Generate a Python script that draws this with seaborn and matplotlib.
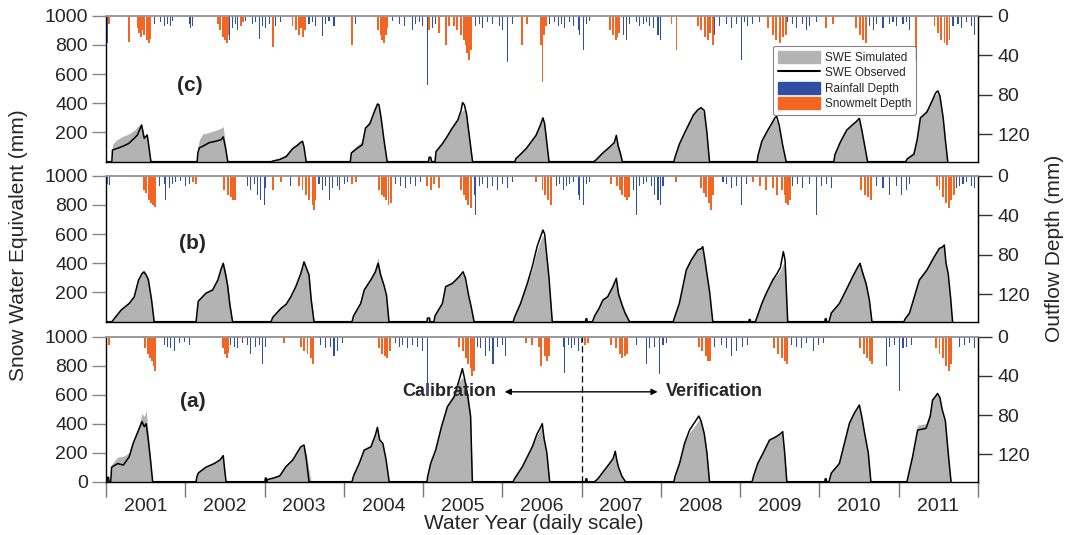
import numpy as np
import pandas as pd
import matplotlib
matplotlib.use("Agg")
import matplotlib.pyplot as plt
import matplotlib.patches as mpatches
import matplotlib.lines as mlines
import seaborn as sns

# ---------------- data ----------------
years = [2001, 2002, 2003, 2004, 2005, 2006, 2007, 2008, 2009, 2010, 2011]
panel_labels = ["(c)", "(b)", "(a)"]

# SWE (mm) per water year: day of water year, observed, simulated
c_days = [[0,27,30,50,80,105,130,145,164,176,190,198,207],
          [0,55,58,65,80,110,140,165,175,185,196],
          [0,30,40,70,100,130,150,165,175,182,192],
          [0,30,35,60,85,100,120,140,155,162,172,185,200],
          [0,25,28,35,40,55,60,90,110,130,160,175,182,190,200,215,228],
          [0,58,62,90,110,130,155,175,187,195,205,215],
          [0,55,65,98,129,150,160,168,178,188],
          [0,60,65,85,110,130,150,170,185,200,212,224],
          [0,78,82,100,125,145,160,168,180,195,212],
          [0,66,72,95,125,150,170,184,195,210,222],
          [0,32,40,70,85,100,130,155,170,180,190,205,215,226]]
c_obs = [[0,0,80,90,107,125,160,183,251,160,183,100,0],
         [0,0,60,95,105,130,140,150,170,100,0],
         [0,0,5,15,35,90,110,130,140,100,0],
         [0,0,60,90,115,230,260,340,395,390,300,150,0],
         [0,0,30,30,0,0,70,125,170,220,285,350,405,390,330,150,0],
         [0,0,20,60,90,130,180,250,300,260,130,0],
         [0,0,10,60,100,130,180,110,60,0],
         [0,0,30,120,200,260,320,355,370,350,200,0],
         [0,0,40,140,210,260,300,310,250,120,0],
         [0,0,50,130,215,250,275,297,220,100,0],
         [0,0,20,50,150,300,340,420,470,485,450,300,150,0]]
c_sim = [[0,0,120,150,175,190,215,240,262,180,170,90,0],
         [0,0,100,150,190,200,215,230,240,120,0],
         [0,0,10,25,50,100,125,145,130,60,0],
         [0,0,70,110,140,240,280,360,405,380,280,120,0],
         [0,0,30,30,0,0,80,135,180,230,290,340,350,360,320,160,0],
         [0,0,25,70,100,140,190,255,295,250,120,0],
         [0,0,15,70,105,140,170,130,70,0],
         [0,0,40,130,210,270,330,360,365,330,180,0],
         [0,0,50,150,220,270,295,280,230,110,0],
         [0,0,60,140,225,260,280,290,210,90,0],
         [0,0,30,70,170,310,360,430,460,470,430,280,130,0]]

b_days = [[0,28,35,70,107,130,150,166,175,185,195,210,222],
          [0,50,54,60,95,126,150,165,175,185,195,205,218],
          [0,30,38,75,100,121,144,167,182,192,205,215,228],
          [0,38,45,78,94,124,145,158,170,185,197,208],
          [0,18,20,30,32,50,55,89,104,135,166,184,195,210,222,235],
          [0,50,56,84,115,138,160,180,187,195,205,215,230],
          [0,18,20,24,26,50,60,80,98,120,144,160,170,185,200,221],
          [0,57,63,85,101,117,140,170,185,193,200,210,225,239],
          [0,40,42,46,48,70,80,100,120,150,170,185,199,207,212,219],
          [0,25,27,31,33,44,55,92,123,153,175,187,200,215,230,242],
          [0,24,30,50,72,95,130,164,187,200,210,218,228,240,248]]
b_obs = [[0,0,15,80,125,170,285,330,340,320,290,150,0],
         [0,0,60,140,195,217,285,360,400,330,250,120,0],
         [0,0,30,90,120,170,240,330,410,370,320,150,0],
         [0,0,40,125,217,285,340,400,320,250,180,0],
         [0,0,25,25,0,0,40,125,240,262,308,342,300,180,100,0],
         [0,0,30,125,262,377,514,600,628,600,450,300,0],
         [0,0,20,20,0,0,40,90,148,171,240,297,190,120,60,0],
         [0,0,30,125,240,354,422,491,500,514,450,350,200,0],
         [0,0,15,15,0,0,40,125,194,285,330,370,480,420,240,0],
         [0,0,20,20,0,0,60,125,217,308,370,400,330,260,150,0],
         [0,0,20,60,171,285,354,445,502,510,525,400,330,150,0]]
b_sim = [[0,0,20,90,135,180,290,345,355,330,280,130,0],
         [0,0,70,150,205,225,295,370,410,350,270,150,0],
         [0,0,35,100,130,180,250,340,400,360,310,170,0],
         [0,0,50,140,230,300,360,440,330,240,150,0],
         [0,0,25,25,0,0,50,135,250,275,315,330,290,170,90,0],
         [0,0,40,135,270,360,490,570,590,560,420,280,0],
         [0,0,20,20,0,0,45,95,155,180,245,285,200,130,70,0],
         [0,0,40,135,250,360,430,500,510,500,430,330,180,0],
         [0,0,15,15,0,0,50,135,200,290,320,350,400,400,250,0],
         [0,0,20,20,0,0,70,135,225,315,380,390,340,270,140,0],
         [0,0,30,70,180,300,370,460,510,515,510,380,300,130,0]]

a_days = [[0,5,7,12,14,22,26,54,80,107,125,150,166,176,185,195,205,215],
          [0,50,53,60,95,133,160,175,181,188],
          [0,2,4,8,10,14,40,70,98,130,150,167,182,192,205,215],
          [0,38,45,71,94,125,145,155,165,180,195,209],
          [0,18,22,35,58,85,112,143,166,181,190,205,219,227],
          [0,50,56,92,115,138,160,178,184,192,205,218],
          [0,18,20,24,26,60,75,100,129,145,155,162,170,185,202],
          [0,60,66,86,109,132,163,175,185,200,212,224],
          [0,55,62,81,105,135,165,185,196,205,215],
          [0,25,27,31,33,44,55,92,115,138,160,184,195,210,225,237],
          [0,38,44,64,87,126,145,156,170,179,190,200,215,228,241]]
a_obs = [[0,0,30,30,0,0,100,125,115,172,264,356,414,380,400,287,150,0],
         [0,0,30,60,100,125,150,180,90,0],
         [0,0,25,25,0,15,25,40,103,150,200,241,253,160,0,0],
         [0,0,40,126,218,241,320,375,290,264,150,0],
         [0,0,40,126,218,380,517,586,700,780,720,600,450,0],
         [0,0,20,103,172,241,330,380,400,300,200,0],
         [0,0,20,20,0,0,20,70,126,160,210,150,100,40,0],
         [0,0,40,126,264,356,425,453,420,330,200,0],
         [0,0,40,126,195,287,310,330,345,200,0],
         [0,0,20,20,0,0,60,126,264,402,471,529,450,320,200,0],
         [0,0,40,172,356,368,450,563,590,609,580,500,420,200,0]]
a_sim = [[0,0,30,30,0,0,120,170,175,200,280,380,470,450,490,330,170,0],
         [0,0,35,70,105,130,155,175,80,0],
         [0,0,25,25,0,20,30,50,110,160,210,245,240,200,80,0],
         [0,0,50,135,225,250,330,360,300,250,130,0],
         [0,0,45,135,225,390,530,600,690,720,700,620,450,0],
         [0,0,25,110,180,250,320,370,380,290,180,0],
         [0,0,20,20,0,0,25,75,130,165,195,150,100,40,0],
         [0,0,50,135,270,340,400,430,410,330,200,0],
         [0,0,50,135,205,295,315,330,330,190,0],
         [0,0,20,20,0,0,70,135,275,410,480,520,440,310,180,0],
         [0,0,50,200,390,400,480,570,600,600,570,480,400,180,0]]

# Outflow depth (mm): days since 1 Oct 2000, depth
c_melt_day = [15,104,146,153,161,169,176,187,196,202,514,524,537,549,557,563,621,629,767,
              859,874,889,897,908,917,1135,1254,1265,1273,1281,1288,1296,1488,1533,1564,1580,
              1603,1618,1633,1649,1656,1664,1672,1679,1917,1940,2005,2010,2016,2025,2323,2335,
              2347,2354,2363,2604,2627,2726,2742,2757,2772,2783,2795,3048,3071,3087,3102,3117,
              3130,3317,3348,3455,3470,3486,3501,3731,3815,3831,3846,3861,3872,3884]
c_melt_mm = [8,27,12,18,22,15,20,25,28,24,8,15,22,25,28,20,10,6,32,
             10,15,20,12,22,15,30,15,20,25,28,20,12,15,18,30,10,
             10,15,20,25,30,38,45,35,30,8,30,67,20,10,15,20,
             25,22,18,8,35,10,15,22,25,18,30,12,20,25,28,22,
             20,12,8,12,20,25,28,45,10,18,25,28,30,25]
c_rain_day = [8,222,253,268,284,299,307,383,391,399,570,583,598,606,644,675,690,705,721,736,751,
              782,805,935,951,966,997,1012,1027,1050,1150,1319,1350,1373,1411,1426,1442,1457,1480,
              1503,1518,1702,1718,1733,1756,1779,1810,1825,1848,1871,2044,2067,2082,2097,2113,2136,
              2151,2174,2182,2197,2212,2228,2381,2396,2412,2442,2458,2473,2489,2504,2519,2542,2553,
              2803,2826,2857,2880,2903,2926,2941,2956,2979,3010,3140,3163,3179,3209,3225,3240,3271,
              3516,3532,3547,3578,3608,3624,3639,3670,3685,3700,3900,3923,3938,3961,3984,3999]
c_rain_mm = [28,8,6,10,8,10,5,8,12,10,25,12,8,15,5,8,6,24,10,12,8,
             10,6,8,6,10,21,8,5,10,8,5,8,10,15,8,6,10,70,
             12,8,10,8,12,6,8,10,15,47,8,8,6,10,8,12,6,
             10,15,20,35,8,5,20,25,8,6,10,8,6,10,12,20,25,
             20,10,8,12,8,45,6,10,8,6,6,8,12,8,15,10,6,
             10,15,8,12,8,6,10,8,6,15,10,8,12,6,10,20]

b_melt_day = [173,184,196,207,218,225,399,414,544,560,575,583,594,767,805,889,905,920,935,951,958,963,
              1135,1150,1258,1270,1281,1291,1301,1311,1480,1495,1511,1534,1633,1649,1656,1669,1679,1978,
              2010,2021,2036,2051,2327,2354,2366,2378,2389,2400,2409,2623,2742,2752,2765,2777,2788,2795,
              2979,3010,3041,3071,3090,3114,3125,3133,3140,3148,3478,3493,3509,3524,3826,3838,3854,3869,
              3881,3892,3903]
b_melt_mm = [15,18,25,28,30,32,6,8,15,20,22,25,25,15,6,10,15,20,25,30,35,25,
             8,6,15,20,22,25,30,28,10,15,8,12,15,20,25,30,33,6,
             15,20,25,30,8,10,15,20,22,25,22,6,12,18,22,28,35,20,
             6,10,15,12,20,15,20,28,30,25,15,20,22,25,10,15,22,28,
             33,25,20]
b_rain_day = [8,15,245,268,276,291,307,322,345,368,383,652,667,682,698,713,728,736,851,981,997,1012,
              1028,1043,1066,1074,1097,1112,1334,1357,1380,1403,1426,1449,1695,1702,1718,1733,1756,1779,
              1802,1825,1848,1871,2074,2090,2105,2120,2136,2151,2174,2182,2197,2212,2228,2427,2442,2458,
              2473,2489,2512,2527,2542,2553,2565,2841,2857,2880,2903,2926,2949,3163,3186,3209,3240,3271,
              3294,3317,3340,3547,3578,3608,3639,3662,3685,3700,3915,3931,3946,3961,3984,3999]
b_rain_mm = [8,9,10,8,25,12,8,6,5,10,8,10,15,8,20,25,30,12,10,8,15,10,
             25,12,10,15,8,6,8,10,12,8,10,6,20,40,10,8,12,10,
             15,8,12,6,10,8,15,10,8,6,20,25,30,8,6,15,40,10,
             8,6,10,20,25,30,10,6,8,12,10,30,8,10,8,12,8,40,
             10,8,12,10,12,20,10,20,15,8,12,10,8,6,10,12]

a_melt_day = [15,181,192,202,212,219,225,540,549,557,563,820,897,912,928,943,954,1258,1273,1285,1296,1307,
              1626,1644,1656,1669,1679,1687,1695,1932,1963,1994,2005,2021,2031,2041,2205,2220,2327,2350,
              2366,2378,2389,2400,2731,2746,2762,2772,2783,3074,3094,3114,3125,3136,3473,3489,3504,3516,
              3528,3820,3838,3854,3869,3881,3892]
a_melt_mm = [8,12,18,22,25,30,35,12,18,22,17,6,10,15,18,22,28,12,18,20,22,15,
             10,15,22,28,32,40,35,6,8,10,30,20,25,20,8,6,8,12,
             18,22,20,18,10,15,20,25,25,12,18,22,25,28,12,18,22,25,
             28,12,18,22,30,35,28]
a_rain_day = [268,284,299,314,337,360,383,575,590,606,629,652,667,690,705,721,736,989,1012,1035,1050,1066,
              1089,1334,1350,1365,1388,1411,1434,1457,1480,1710,1725,1748,1764,1782,1802,1825,1840,2105,
              2113,2128,2143,2159,2174,2189,2442,2488,2504,2527,2550,2565,2581,2803,2834,2857,2880,2903,
              2933,2956,3156,3179,3202,3225,3256,3279,3302,3593,3608,3631,3654,3670,3685,3708,3930,3953,
              3976,3999]
a_rain_mm = [8,10,12,15,6,5,8,8,10,12,6,8,18,10,8,28,10,8,12,10,20,15,
             6,6,10,8,12,8,10,15,60,10,12,20,15,28,10,8,20,10,
             37,8,12,8,15,6,8,28,12,10,38,8,6,10,8,12,20,15,
             10,8,8,10,12,6,15,8,6,30,10,8,55,12,10,8,10,8,
             6,12]

swe_sets = [(c_days, c_obs, c_sim), (b_days, b_obs, b_sim), (a_days, a_obs, a_sim)]
bar_sets = [(c_melt_day, c_melt_mm, c_rain_day, c_rain_mm),
            (b_melt_day, b_melt_mm, b_rain_day, b_rain_mm),
            (a_melt_day, a_melt_mm, a_rain_day, a_rain_mm)]

# ---------------- style ----------------
sns.set_style("ticks")
plt.rcParams["font.family"] = ["Liberation Sans", "DejaVu Sans"]

GRAY = "#b3b3b3"
ORANGE = "#f26522"
BLUE = "#2f4fa2"
NDAYS = 365 * len(years)

fig = plt.figure(figsize=(10.66, 5.35), dpi=100)
positions = [[0.0994, 0.6978, 0.818, 0.2729],
             [0.0994, 0.3987, 0.818, 0.2729],
             [0.0994, 0.0996, 0.818, 0.2710]]
label_pos = [(387, 525), (400, 539), (400, 550)]

for i in range(3):
    days, obs, sim = swe_sets[i]
    rows = []
    for k in range(len(years)):
        for d, o, s in zip(days[k], obs[k], sim[k]):
            rows.append((365 * k + d, o, s))
    df = pd.DataFrame(rows, columns=["day", "obs", "sim"])

    ax = fig.add_axes(positions[i])
    ax.fill_between(df["day"], 0, df["sim"], color=GRAY, lw=0, zorder=1)
    sns.lineplot(data=df, x="day", y="obs", ax=ax, color="black", lw=1.1,
                 estimator=None, sort=False, zorder=3)
    ax.set_xlim(0, NDAYS)
    ax.set_ylim(0, 1000)
    ax.set_xlabel("")
    ax.set_ylabel("")
    if i < 2:
        ax.set_yticks([200, 400, 600, 800, 1000])
    else:
        ax.set_yticks([0, 200, 400, 600, 800, 1000])
    ax.tick_params(axis="y", direction="out", length=10, width=1, color="#888888",
                   labelsize=14, pad=3)
    for sp in ["left", "bottom", "right"]:
        ax.spines[sp].set_color("black")
        ax.spines[sp].set_linewidth(1.0)
    ax.spines["top"].set_color("#999999")
    ax.spines["top"].set_linewidth(1.2)

    if i < 2:
        ax.set_xticks([])
    else:
        ax.set_xticks([365 * k for k in range(len(years) + 1)])
        ax.set_xticklabels([])
        ax.set_xticks([365 * k + 182.5 for k in range(len(years))], minor=True)
        ax.set_xticklabels([str(y) for y in years], minor=True)
        ax.tick_params(axis="x", which="major", direction="out", length=11, width=1,
                       color="#777777")
        ax.tick_params(axis="x", which="minor", length=0, labelsize=14, pad=12)

    ax.text(label_pos[i][0], label_pos[i][1], panel_labels[i], fontsize=15,
            fontweight="bold", ha="center", va="center")

    # outflow depth bars (inverted right axis)
    mday, mmm, rday, rmm = bar_sets[i]
    ax2 = ax.twinx()
    ax2.bar(rday, rmm, width=5, color=BLUE, lw=0, align="center")
    ax2.bar(mday, mmm, width=9, color=ORANGE, lw=0, align="center")
    ax2.set_ylim(148, 0)
    ax2.set_xlim(0, NDAYS)
    ax2.set_yticks([0, 40, 80, 120])
    ax2.tick_params(axis="y", direction="out", length=10, width=1, color="#333333",
                    labelsize=14, pad=4)
    ax2.spines["top"].set_color("#999999")
    ax2.spines["top"].set_linewidth(1.2)
    ax2.spines["right"].set_color("black")
    ax2.spines["left"].set_visible(False)
    ax2.spines["bottom"].set_visible(False)
    ax2.grid(False)

    if i == 2:
        ax.plot([2190, 2190], [0, 1000], color="black", lw=0.9, ls=(0, (5, 3)), zorder=4)
        ax.text(1579, 620, "Calibration", fontsize=13, fontweight="bold",
                ha="center", va="center", zorder=5)
        ax.text(2803, 620, "Verification", fontsize=13, fontweight="bold",
                ha="center", va="center", zorder=5)
        ax.annotate("", xy=(1836, 620), xytext=(2540, 620),
                    arrowprops=dict(arrowstyle="<|-|>", color="black", lw=1.0,
                                    mutation_scale=9, shrinkA=0, shrinkB=0), zorder=5)

# legend
handles = [mpatches.Patch(color=GRAY, label="SWE Simulated"),
           mlines.Line2D([], [], color="black", lw=1.5, label="SWE Observed"),
           mpatches.Patch(color=BLUE, label="Rainfall Depth"),
           mpatches.Patch(color=ORANGE, label="Snowmelt Depth")]
leg = fig.legend(handles=handles, loc="upper left", bbox_to_anchor=(0.725, 0.914),
                 bbox_transform=fig.transFigure, fontsize=8.5, frameon=True, fancybox=True,
                 handlelength=3.6, handleheight=1.2, labelspacing=0.2, handletextpad=0.4,
                 borderpad=0.4, borderaxespad=0)
leg.get_frame().set_edgecolor("#666666")
leg.get_frame().set_linewidth(0.8)

fig.text(0.017, 0.542, "Snow Water Equivalent (mm)", rotation=90, ha="center",
         va="center", fontsize=15)
fig.text(0.989, 0.536, "Outflow Depth (mm)", rotation=90, ha="center", va="center",
         fontsize=15)
fig.text(0.501, 0.0206, "Water Year (daily scale)", ha="center", va="center", fontsize=15)

fig.savefig("out.png", dpi=100)
